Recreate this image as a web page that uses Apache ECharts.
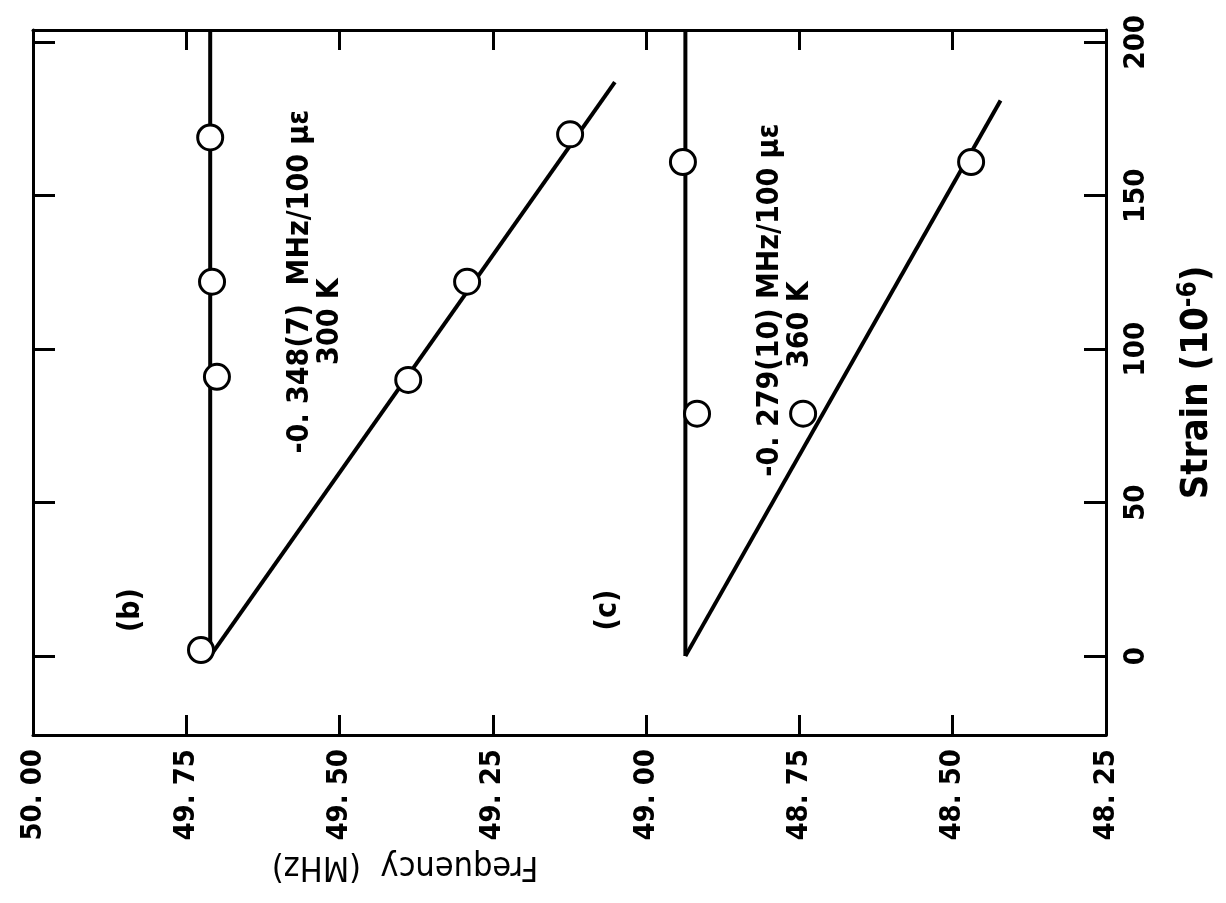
<!DOCTYPE html>
<html>
<head>
<meta charset="utf-8">
<script src="https://cdn.jsdelivr.net/npm/echarts@6/dist/echarts.min.js"></script>
<style>
html,body{margin:0;padding:0;background:#fff;}
#c{width:1226px;height:903px;}
</style>
</head>
<body>
<div id="c"></div>
<script>
// ---- data (frequency in MHz, strain in 1e-6) ----
const freqTicks = [50.00, 49.75, 49.50, 49.25, 49.00, 48.75, 48.50, 48.25];
const strainTicks = [0, 50, 100, 150, 200];

// panel (b), 300 K
const bRefLine   = [[49.711, 0], [49.711, 204]];
const bSlopeLine = [[49.711, 0], [49.051, 187]];
const bRefPts    = [[49.726, 2], [49.700, 91], [49.708, 122], [49.711, 169]];
const bSlopePts  = [[49.388, 90], [49.292, 122], [49.124, 170]];

// panel (c), 360 K
const cRefLine   = [[48.936, 0], [48.936, 204]];
const cSlopeLine = [[48.936, 0], [48.422, 181]];
const cRefPts    = [[48.917, 79], [48.940, 161]];
const cSlopePts  = [[48.744, 79], [48.470, 161]];

// annotations: [freq, strain, text]
const notes = [
  [49.840, 15, '(b)'],
  [49.062, 15, '(c)'],
  [49.564, 122, '-0. 348(7)  MHz/100 \u00b5\u03b5'],
  [49.515, 109, '300 K'],
  [48.798, 116, '-0. 279(10) MHz/100 \u00b5\u03b5'],
  [48.749, 108, '360 K']
];

const FONT = "'DejaVu Sans Condensed','Liberation Sans Narrow','DejaVu Sans',sans-serif";
const fmtF = v => v.toFixed(2).replace('.', '. ');

const chart = echarts.init(document.getElementById('c'), null, {renderer: 'canvas'});

const lineStyleBase = {color: '#000', width: 4};
function lineSeries(name, data) {
  return {name, type: 'line', data, symbol: 'none', lineStyle: lineStyleBase, z: 3, animation: false};
}
function ptSeries(name, data) {
  return {
    name, type: 'scatter', data, symbol: 'circle', symbolSize: 25,
    itemStyle: {color: '#fff', borderColor: '#000', borderWidth: 3, opacity: 1},
    z: 5, animation: false
  };
}

const xCommon = {
  type: 'value', min: 48.25, max: 50.00, interval: 0.25, inverse: true,
  splitLine: {show: false},
  axisLine: {show: true, onZero: false, lineStyle: {color: '#000', width: 3}},
  axisTick: {show: true, inside: true, length: 20, lineStyle: {color: '#000', width: 3}}
};
const yCommon = {
  type: 'value', min: -25.7, max: 204,
  splitLine: {show: false},
  axisLine: {show: true, onZero: false, lineStyle: {color: '#000', width: 3}},
  axisTick: {show: true, inside: true, length: 22, customValues: strainTicks, lineStyle: {color: '#000', width: 3}}
};

const option = {
  backgroundColor: '#fff',
  animation: false,
  grid: {left: 33, right: 120, top: 30, bottom: 168},
  xAxis: [
    Object.assign({}, xCommon, {
      position: 'bottom',
      axisLabel: {
        show: true, rotate: 90, margin: 14,
        customValues: freqTicks,
        formatter: fmtF,
        color: '#000', fontFamily: FONT, fontWeight: 'bold', fontSize: 29
      }
    }),
    Object.assign({}, xCommon, {position: 'top', axisLabel: {show: false}})
  ],
  yAxis: [
    Object.assign({}, yCommon, {
      position: 'right',
      name: 'Strain (10{sup|-6})',
      nameLocation: 'middle', nameRotate: 90, nameGap: 70,
      nameTextStyle: {
        color: '#000', fontFamily: FONT, fontSize: 38, fontWeight: 'bold',
        rich: {sup: {fontSize: 26, fontFamily: FONT, fontWeight: 'bold', verticalAlign: 'top', padding: [0, 0, 16, 0]}}
      },
      axisLabel: {
        show: true, rotate: 90, margin: 16,
        customValues: strainTicks,
        color: '#000', fontFamily: FONT, fontWeight: 'bold', fontSize: 29
      }
    }),
    Object.assign({}, yCommon, {position: 'left', axisLabel: {show: false}})
  ],
  graphic: [{
    type: 'text', x: 405, y: 866, rotation: Math.PI,
    style: {text: 'Frequency  (MHz)', fill: '#000', font: '34px ' + FONT, textAlign: 'center', textVerticalAlign: 'middle'}
  }],
  series: [
    lineSeries('b-ref', bRefLine),
    lineSeries('b-slope', bSlopeLine),
    lineSeries('c-ref', cRefLine),
    lineSeries('c-slope', cSlopeLine),
    ptSeries('b-ref-pts', bRefPts),
    ptSeries('b-slope-pts', bSlopePts),
    ptSeries('c-ref-pts', cRefPts),
    ptSeries('c-slope-pts', cSlopePts),
    {
      name: 'notes', type: 'scatter', symbolSize: 1, z: 6, animation: false,
      data: notes.map(n => ({value: [n[0], n[1]], name: n[2]})),
      itemStyle: {color: 'rgba(0,0,0,0)'},
      label: {
        show: true, position: 'inside', rotate: 90, formatter: p => p.name,
        color: '#000', opacity: 1, textBorderWidth: 0, textBorderColor: 'transparent',
        fontFamily: FONT, fontWeight: 'bold', fontSize: 30
      }
    }
  ]
};
chart.setOption(option);
</script>
</body>
</html>
